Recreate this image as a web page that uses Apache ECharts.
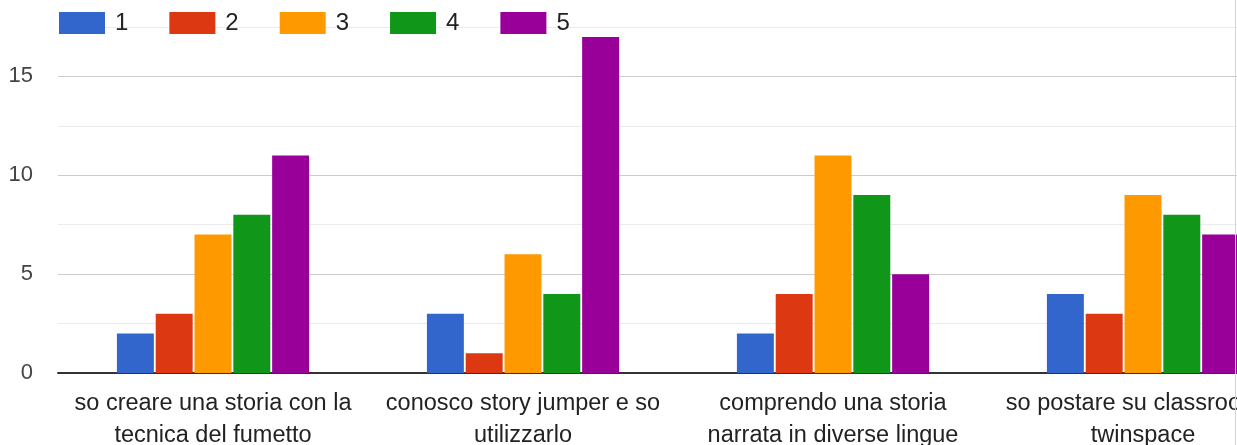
<!DOCTYPE html>
<html><head><meta charset="utf-8">
<script src="https://cdn.jsdelivr.net/npm/echarts@6/dist/echarts.min.js"></script>
<style>html,body{margin:0;padding:0;background:#fff}#c{width:1237px;height:445px}</style>
</head><body><div id="c"></div>
<script>
const categories = [
  "so creare una storia con la\ntecnica del fumetto",
  "conosco story jumper e so\nutilizzarlo",
  "comprendo una storia\nnarrata in diverse lingue",
  "so postare su classroom e\ntwinspace"
];
const seriesNames = ["1", "2", "3", "4", "5"];
const s1 = [2, 3, 2, 4];
const s2 = [3, 1, 4, 3];
const s3 = [7, 6, 11, 9];
const s4 = [8, 4, 9, 8];
const s5 = [11, 17, 5, 7];
const seriesData = [s1, s2, s3, s4, s5];
const colors = ["#3366cc", "#dc3912", "#ff9900", "#109618", "#990099"];

const FONT = '"Liberation Sans", Arial, sans-serif';
const chart = echarts.init(document.getElementById('c'), null, {renderer: 'canvas'});
chart.setOption({
  animation: false,
  color: colors,
  textStyle: {fontFamily: FONT},
  legend: {
    top: 11, left: 59, padding: 0,
    itemWidth: 46, itemHeight: 22, itemGap: 41,
    icon: 'rect',
    textStyle: {fontSize: 24, color: '#222', fontFamily: FONT, padding: [0, 0, 0, 5]},
    data: seriesNames
  },
  grid: {left: 58, width: 1240, top: 27, height: 346, containLabel: false, outerBoundsMode: 'none'},
  xAxis: {
    type: 'category', data: categories,
    axisLine: {lineStyle: {color: '#333', width: 2}},
    axisTick: {show: false},
    axisLabel: {fontSize: 23.5, color: '#222', fontFamily: FONT, lineHeight: 32, margin: 15, interval: 0}
  },
  yAxis: {
    type: 'value', min: 0, max: 17.5, interval: 2.5,
    axisLine: {show: false}, axisTick: {show: false},
    axisLabel: {fontSize: 22, color: '#444', fontFamily: FONT, margin: 25,
      formatter: v => (v % 5 === 0 ? String(v) : '')},
    splitLine: {lineStyle: {color: ['#cccccc', '#ebebeb'], width: 1}}
  },
  graphic: [{type: 'line', shape: {x1: 1235.5, y1: 0, x2: 1235.5, y2: 445}, style: {stroke: '#d6d6d6', lineWidth: 1}, silent: true, z: 100}],
  series: seriesNames.map((n, i) => ({
    name: n, type: 'bar', data: seriesData[i],
    barCategoryGap: '38%', barGap: '5%'
  }))
});
</script></body></html>
